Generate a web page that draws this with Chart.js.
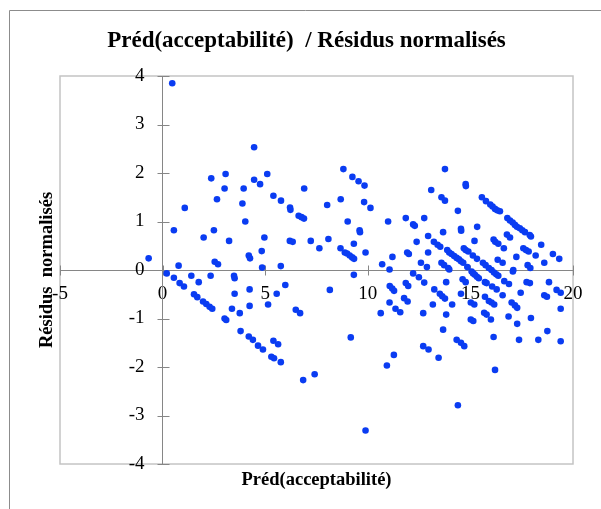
<!DOCTYPE html>
<html><head><meta charset="utf-8">
<script src="https://cdn.jsdelivr.net/npm/chart.js@4.4.1/dist/chart.umd.min.js"></script>
<style>html,body{margin:0;padding:0;background:#fff}#wrap{position:relative;width:601px;height:509px}</style>
</head><body><div id="wrap"><canvas id="c" width="601" height="509"></canvas></div>
<script>
const chartTitle = 'Préd(acceptabilité)  / Résidus normalisés';
const xAxisTitle = 'Préd(acceptabilité)';
const yAxisTitle = 'Résidus  normalisés';
const xTicks = [-5, 0, 5, 10, 15, 20];
const yTicks = [-4, -3, -2, -1, 0, 1, 2, 3, 4];

const predValues = [
  -0.68, 0.47, 1.08, 0.55, 0.78, 0.20, 0.55, 0.83, 1.04,
  1.40, 1.76, 2.34, 1.53, 1.69, 1.97, 2.13, 2.29, 2.42, 3.48, 3.51, 3.51, 3.38, 3.02, 3.10,
  3.76, 4.24, 4.24, 3.80, 4.20, 4.40, 4.65, 4.89, 5.30, 5.43, 5.76, 5.40, 5.63, 4.85, 5.76,
  5.56, 5.14, 5.98, 6.49, 6.70, 6.85, 2.54, 2.70,
  4.46, 2.37, 3.07, 3.02, 4.46, 4.75, 5.10, 3.95, 2.65, 3.89, 4.03, 5.40, 5.77, 6.21, 6.23,
  6.63, 6.77, 6.89, 6.90, 2.00, 2.50, 3.24, 4.96, 6.20, 6.34, 4.20, 4.26, 4.83,
  8.81, 9.25, 9.55, 9.84, 8.02, 8.68, 9.82, 10.13, 9.02, 9.60, 9.62, 10.99, 11.85, 12.21, 12.29,
  12.75, 7.22, 7.64, 8.08, 8.67, 8.88, 8.99, 9.12, 9.24, 9.33, 9.32, 9.89, 10.70, 11.20, 11.06,
  11.92, 12.00, 12.38, 12.59,
  9.32, 8.15, 9.17, 7.41, 9.89, 11.07, 11.19, 11.28, 11.85, 11.97, 11.77, 11.94, 11.06, 11.35,
  11.58, 10.63, 12.70, 11.27, 10.93, 12.70, 12.21, 12.49, 12.75,
  13.76, 14.77, 14.78, 13.09, 13.59, 13.76, 15.56, 15.76, 15.97, 16.08, 16.20, 16.31, 16.44,
  14.39, 16.80, 16.93, 17.06, 17.17, 17.27, 17.41, 17.53, 17.66, 17.89, 17.95, 14.54, 14.55,
  15.33, 13.67, 12.94, 13.22, 13.40, 13.53, 15.20, 16.13, 16.21, 16.36, 16.78, 16.93, 16.63,
  17.58, 17.71, 17.84, 18.45, 18.18, 17.24, 19.02, 19.33, 18.60, 12.94, 14.68, 14.77, 14.90,
  13.87, 13.97, 14.08, 14.21, 14.33, 14.44, 14.54, 14.65, 15.12, 15.32, 12.88, 13.59, 13.72,
  14.85, 15.61, 15.74, 15.90, 16.33, 16.57, 17.79, 17.92, 17.09,
  13.92, 13.97, 15.06, 15.14, 15.22, 15.32, 15.41, 16.03, 16.15, 16.26, 16.36, 17.07, 16.65,
  16.88, 17.74, 17.90, 18.83, 19.20, 19.40, 18.60, 18.73, 19.40, 17.95, 18.75, 19.40, 18.31,
  17.37, 17.28, 16.86, 17.45, 17.01, 17.17, 17.28, 16.57, 15.71, 15.79, 16.06, 16.28, 15.71,
  15.90, 16.03, 16.16, 15.67, 15.79, 16.00, 16.13, 16.20, 14.62, 14.77, 14.54, 15.02, 15.19,
  15.02, 15.14, 14.33, 14.54, 14.70, 14.39, 13.82, 13.24, 13.51, 13.63, 13.76, 14.11, 13.17,
  13.82, 13.67, 12.96, 13.45
];
const residValues = [
  0.24, 3.85, 1.28, 0.82, 0.09, -0.07, -0.16, -0.27, -0.34,
  -0.12, -0.25, -0.12, -0.50, -0.56, -0.65, -0.70, -0.76, -0.80, -0.12, -0.17, -0.49, -0.80, -1.00, -1.03,
  -0.89, -0.40, -0.74, -1.26, -1.37, -1.44, -1.56, -1.64, -1.79, -1.82, -1.90, -1.46, -1.53, 0.05, 0.08,
  -0.49, -0.71, -0.31, -0.82, -0.89, -2.27, 0.17, 0.12,
  2.53, 1.89, 1.98, 1.68, 1.86, 1.77, 1.98, 1.68, 1.46, 1.37, 1.00, 1.53, 1.43, 1.29, 1.24,
  1.12, 1.09, 1.06, 1.68, 0.67, 0.82, 0.60, 0.67, 0.60, 0.58, 0.30, 0.24, 0.39,
  2.08, 1.92, 1.83, 1.74, 1.34, 1.46, 1.40, 1.28, 1.00, 0.82, 0.78, 1.00, 1.07, 0.94, 0.91,
  1.07, 0.60, 0.45, 0.64, 0.45, 0.36, 0.34, 0.30, 0.26, 0.23, 0.54, 0.36, 0.12, 0.27, 0.01,
  0.36, 0.33, 0.58, 0.15,
  -0.10, -0.41, -1.39, -2.15, -3.31, -0.33, -0.38, -0.43, -0.27, -0.33, -0.58, -0.65, -0.67, -0.80,
  -0.87, -0.89, -0.89, -1.75, -1.97, -1.57, -0.07, -0.15, -0.26,
  2.08, 1.77, 1.73, 1.65, 1.50, 1.43, 1.50, 1.42, 1.35, 1.31, 1.26, 1.23, 1.21,
  1.22, 1.07, 1.02, 0.98, 0.93, 0.89, 0.86, 0.82, 0.78, 0.72, 0.69, 0.85, 0.81,
  0.89, 0.78, 0.70, 0.58, 0.52, 0.48, 0.60, 0.63, 0.58, 0.54, 0.73, 0.67, 0.45,
  0.45, 0.41, 0.38, 0.52, 0.30, 0.27, 0.33, 0.23, 0.15, 0.36, 0.45, 0.41, 0.38,
  0.41, 0.36, 0.33, 0.29, 0.25, 0.22, 0.18, 0.15, 0.30, 0.23, 0.06, 0.15, 0.10,
  0.06, 0.15, 0.10, 0.04, 0.21, 0.15, 0.10, 0.04, 0.00,
  0.04, 0.01, -0.03, -0.07, -0.10, -0.14, -0.17, 0.00, -0.05, -0.09, -0.12, -0.03, -0.23,
  -0.29, -0.25, -0.27, -0.25, -0.41, -0.47, -0.52, -0.55, -0.80, -0.99, -1.26, -1.47, -1.44,
  -1.44, -1.11, -0.96, -0.47, -0.67, -0.73, -0.78, -0.52, -0.25, -0.27, -0.34, -0.40, -0.55,
  -0.64, -0.67, -0.71, -0.88, -0.92, -1.02, -1.38, -2.06, -0.19, -0.25, -0.49, -0.67, -0.71,
  -1.02, -1.05, -1.44, -1.50, -1.57, -2.79, -0.25, -0.40, -0.49, -0.54, -0.59, -0.71, -0.71,
  -0.92, -1.23, -1.64, -1.81
];

const points = predValues.map((v, i) => ({x: v, y: residValues[i]}));
const SERIF = '"Liberation Serif", "Times New Roman", serif';

const decor = {
  id: 'decor',
  afterLayout(chart) {
    const xs = chart.scales.x, ys = chart.scales.y;
    const x0 = xs.getPixelForValue(0), y0 = ys.getPixelForValue(0);
    ys.right = x0; ys.left = 36; ys.width = ys.right - ys.left;
    xs.top = y0; xs.bottom = 491.5; xs.height = xs.bottom - xs.top;
    if (chart.titleBlock) { chart.titleBlock.left = 0; chart.titleBlock.right = 613; chart.titleBlock.width = 613; }
  },
  beforeDraw(chart) {
    const ctx = chart.ctx;
    ctx.save();
    ctx.strokeStyle = '#8c8c8c';
    ctx.lineWidth = 1;
    ctx.beginPath();
    ctx.moveTo(9.5, 509); ctx.lineTo(9.5, 10.5); ctx.lineTo(601, 10.5);
    ctx.stroke();
    const a = chart.chartArea;
    ctx.strokeStyle = '#c4c4c4';
    ctx.lineWidth = 1.5;
    ctx.strokeRect(a.left, a.top, a.right - a.left, a.bottom - a.top);
    ctx.restore();
  },
  beforeDatasetsDraw(chart) {
    const ctx = chart.ctx, xs = chart.scales.x, ys = chart.scales.y;
    const x0 = Math.round(xs.getPixelForValue(0)) + 0.5, y0 = Math.round(ys.getPixelForValue(0)) + 0.5;
    ctx.save();
    ctx.strokeStyle = '#868686';
    ctx.lineWidth = 1;
    ctx.beginPath();
    xs.ticks.forEach(t => { const p = Math.round(xs.getPixelForValue(t.value)) + 0.5; ctx.moveTo(p, y0 - 5); ctx.lineTo(p, y0 + 5); });
    ys.ticks.forEach(t => { const p = Math.round(ys.getPixelForValue(t.value)) + 0.5; ctx.moveTo(x0 - 6, p); ctx.lineTo(x0 + 6, p); });
    ctx.stroke();
    ctx.restore();
  }
};

new Chart(document.getElementById('c'), {
  type: 'scatter',
  data: {datasets: [{
    data: points,
    backgroundColor: '#0a3cf2',
    borderColor: '#0a3cf2',
    borderWidth: 0,
    pointRadius: 3.3,
    pointHoverRadius: 3.3
  }]},
  options: {
    responsive: false,
    animation: false,
    devicePixelRatio: 1,
    events: [],
    layout: {padding: {left: 60, right: 28, top: 0, bottom: 45}},
    plugins: {
      legend: {display: false},
      tooltip: {enabled: false},
      title: {
        display: true, text: chartTitle, color: '#000',
        font: {family: SERIF, size: 23, weight: 'bold', lineHeight: 1.2},
        padding: {top: 27, bottom: 21.4}
      }
    },
    scales: {
      x: {
        type: 'linear', position: 'bottom', min: -5, max: 20,
        afterBuildTicks: s => { s.ticks = xTicks.map(v => ({value: v})); },
        afterFit: s => { s.height = 0; },
        grid: {display: true, drawOnChartArea: false, drawTicks: false},
        border: {display: true, color: '#868686', width: 1},
        ticks: {font: {family: SERIF, size: 19}, color: '#000', padding: 13, maxRotation: 0, autoSkip: false},
        title: {display: true, text: xAxisTitle, color: '#000', font: {family: SERIF, size: 18.5, weight: 'bold'}, padding: 0}
      },
      y: {
        type: 'linear', position: 'left', min: -4, max: 4,
        afterBuildTicks: s => { s.ticks = yTicks.map(v => ({value: v})); },
        afterFit: s => { s.width = 0; },
        grid: {display: true, drawOnChartArea: false, drawTicks: false},
        border: {display: true, color: '#868686', width: 1},
        ticks: {font: {family: SERIF, size: 19}, color: '#000', padding: 18, autoSkip: false},
        title: {display: true, text: yAxisTitle, color: '#000', font: {family: SERIF, size: 18.5, weight: 'bold'}, padding: 0}
      }
    }
  },
  plugins: [decor]
});
</script>
</body></html>
